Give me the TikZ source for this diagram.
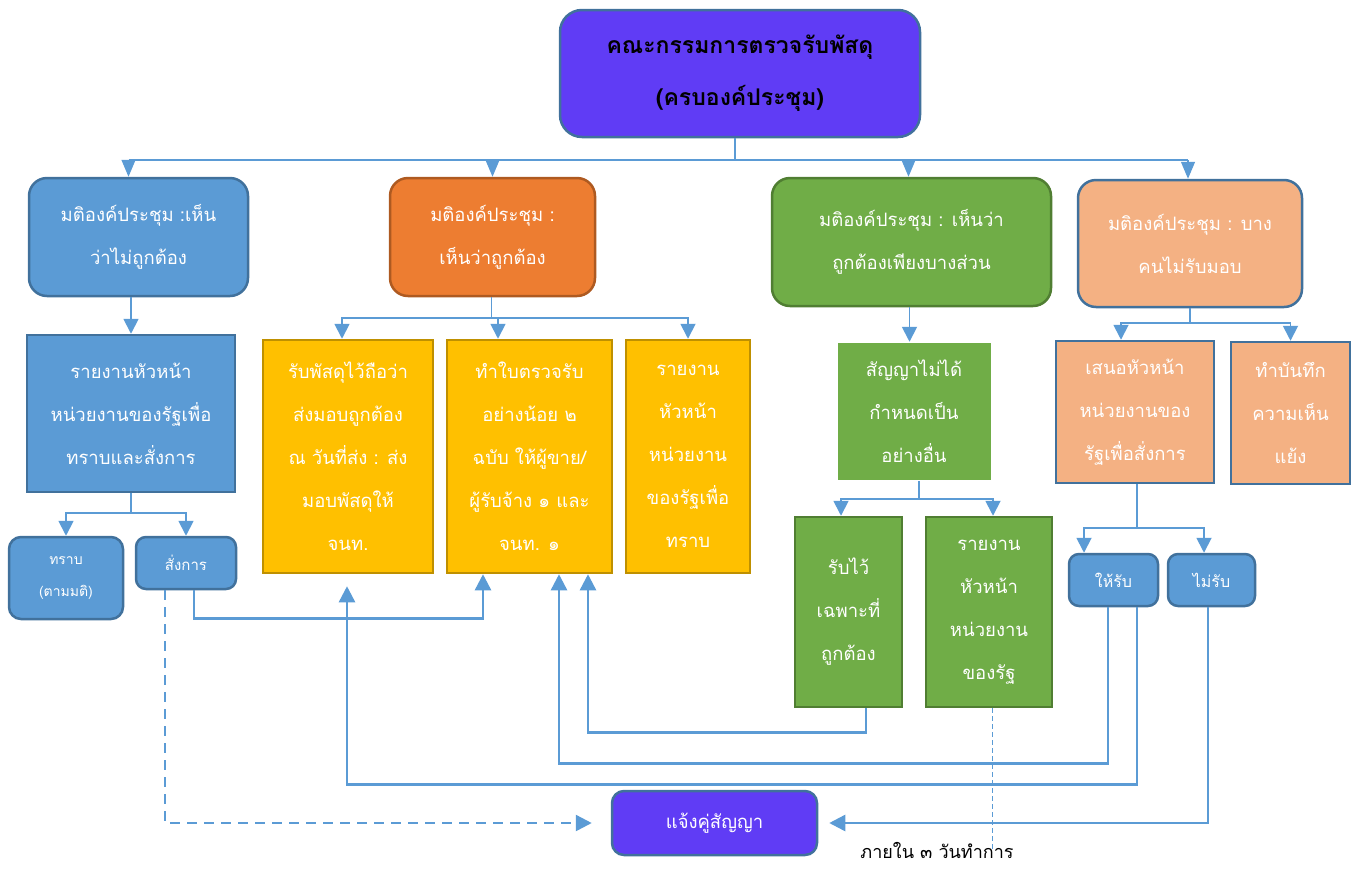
\documentclass[tikz,border=0pt]{standalone}
\usepackage{fontspec}
\newfontfamily\thai[Script=Thai]{Loma}
\usetikzlibrary{arrows.meta,calc}
\definecolor{cpurple}{RGB}{96,60,245}
\definecolor{cblue}{RGB}{91,155,213}
\definecolor{cblueD}{RGB}{65,113,156}
\definecolor{corange}{RGB}{237,125,49}
\definecolor{corangeD}{RGB}{174,90,33}
\definecolor{cgreen}{RGB}{112,173,71}
\definecolor{cgreenD}{RGB}{80,126,50}
\definecolor{cpeach}{RGB}{244,177,131}
\definecolor{cyellow}{RGB}{255,192,0}
\definecolor{cyellowD}{RGB}{191,144,0}
\definecolor{cline}{RGB}{91,155,213}
\begin{document}
\begin{tikzpicture}[x=1pt,y=-1pt,
  base/.style={font=\thai\fontsize{18.5}{43}\selectfont, text=white, align=center, inner sep=0pt, line width=2.5pt},
  rbox/.style={base, rounded corners=18pt},
  sbox/.style={base, rounded corners=10pt},
  bluebox/.style={fill=cblue, draw=cblueD},
  yelbox/.style={base, fill=cyellow, draw=cyellowD},
  grnbox/.style={base, fill=cgreen, draw=cgreenD},
  pchbox/.style={base, fill=cpeach, draw=cblueD},
  tline/.style={draw=cline, line width=1.3pt},
  tarr/.style={tline, -{Triangle[width=14pt,length=17pt]}},
  marr/.style={draw=cline, line width=1.8pt, -{Triangle[width=15pt,length=15pt]}},
  barr/.style={draw=cline, line width=2.5pt, -{Triangle[width=16pt,length=16pt]}},
]
\useasboundingbox (0,0) rectangle (1357,868);

% top
\node[rbox, fill=cpurple, draw=cblueD, rounded corners=22pt, minimum width=360pt, minimum height=127pt,
      font=\thai\bfseries\fontsize{23}{52}\selectfont, text=black] (T) at (740,73.5)
      {คณะกรรมการตรวจรับพัสดุ\\(ครบองค์ประชุม)};

% first row
\node[rbox, bluebox, minimum width=219pt, minimum height=118pt] (A) at (138.5,237)
      {มติองค์ประชุม :เห็น\\ว่าไม่ถูกต้อง};
\node[rbox, fill=corange, draw=corangeD, minimum width=205pt, minimum height=118pt] (B) at (492.5,237)
      {มติองค์ประชุม :\\เห็นว่าถูกต้อง};
\node[rbox, fill=cgreen, draw=cgreenD, minimum width=279pt, minimum height=128pt] (C) at (911.5,242)
      {มติองค์ประชุม : เห็นว่า\\ถูกต้องเพียงบางส่วน};
\node[rbox, fill=cpeach, draw=cblueD, minimum width=224pt, minimum height=127pt] (D) at (1190,243.5)
      {มติองค์ประชุม : บาง\\คนไม่รับมอบ};

% second row
\node[base, bluebox, minimum width=208pt, minimum height=157pt] (A2) at (131,413.5)
      {รายงานหัวหน้า\\หน่วยงานของรัฐเพื่อ\\ทราบและสั่งการ};
\node[sbox, bluebox, rounded corners=12pt, minimum width=114pt, minimum height=82pt,
      font=\thai\fontsize{14}{32}\selectfont] (A3) at (66,578) {ทราบ\\(ตามมติ)};
\node[sbox, bluebox, minimum width=100pt, minimum height=52pt,
      font=\thai\fontsize{15}{30}\selectfont] (A4) at (186,563) {สั่งการ};

\node[yelbox, minimum width=170pt, minimum height=233pt] (B1) at (348,456.5)
      {รับพัสดุไว้ถือว่า\\ส่งมอบถูกต้อง\\ณ วันที่ส่ง : ส่ง\\มอบพัสดุให้\\จนท.};
\node[yelbox, minimum width=165pt, minimum height=233pt] (B2) at (529.5,456.5)
      {ทำใบตรวจรับ\\อย่างน้อย ๒\\ฉบับ ให้ผู้ขาย/\\ผู้รับจ้าง ๑ และ\\จนท. ๑};
\node[yelbox, minimum width=124pt, minimum height=233pt] (B3) at (688,456.5)
      {รายงาน\\หัวหน้า\\หน่วยงาน\\ของรัฐเพื่อ\\ทราบ};

\node[base, fill=cgreen, draw=none, minimum width=153pt, minimum height=137pt] (C1) at (914,411.5)
      {สัญญาไม่ได้\\กำหนดเป็น\\อย่างอื่น};
\node[grnbox, minimum width=107pt, minimum height=190pt] (C2) at (848.5,612)
      {รับไว้\\เฉพาะที่\\ถูกต้อง};
\node[grnbox, minimum width=126pt, minimum height=190pt] (C3) at (989,612)
      {รายงาน\\หัวหน้า\\หน่วยงาน\\ของรัฐ};

\node[pchbox, minimum width=158pt, minimum height=142pt] (D1) at (1135,412)
      {เสนอหัวหน้า\\หน่วยงานของ\\รัฐเพื่อสั่งการ};
\node[pchbox, minimum width=119pt, minimum height=142pt] (D2) at (1290.5,413)
      {ทำบันทึก\\ความเห็น\\แย้ง};
\node[sbox, bluebox, minimum width=89pt, minimum height=52pt,
      font=\thai\fontsize{16}{30}\selectfont] (D3) at (1113.5,580) {ให้รับ};
\node[sbox, bluebox, minimum width=87pt, minimum height=52pt,
      font=\thai\fontsize{16}{30}\selectfont] (D4) at (1211.5,580) {ไม่รับ};

% bottom
\node[sbox, fill=cpurple, draw=cblueD, rounded corners=12pt, minimum width=205pt, minimum height=64pt] (E) at (714.5,823)
      {แจ้งคู่สัญญา};
\node[font=\thai\fontsize{18}{20}\selectfont, text=black, inner sep=0pt] (L) at (937,850) {ภายใน ๓ วันทำการ};

% top distributor
\coordinate (h1) at (0,160);
\draw[tline] ([xshift=-10pt]A.north |- h1) -- ([xshift=-2pt]D.north |- h1);
\draw[tline] ([xshift=-5pt]T.south) -- ([xshift=-5pt]T.south |- h1);
\draw[tarr] ([xshift=-10pt]A.north |- h1) -- ([xshift=-10pt]A.north);
\draw[tarr] (B.north |- h1) -- (B.north);
\draw[tarr] ([xshift=-3pt]C.north |- h1) -- ([xshift=-3pt]C.north);
\draw[tarr] ([xshift=-2pt]D.north |- h1) -- ([xshift=-2pt]D.north);

% A branch
\draw[marr] (A2.north |- A.south) -- (A2.north);
\draw[marr] (A2.south) -- ++(0,20) -| (A3.north);
\draw[marr] (A2.south) -- ++(0,20) -| (A4.north);

% B branch
\draw[marr] ([xshift=-1pt]B.south) -- ++(0,21) -| ([xshift=-6pt]B1.north);
\draw[marr] ([xshift=-1pt]B.south) -- ++(0,21) -| ([xshift=-31.5pt]B2.north);
\draw[marr] ([xshift=-1pt]B.south) -- ++(0,21) -| (B3.north);

% C branch
\draw[marr] ([xshift=-2pt]C.south) -- ([xshift=-2pt]C.south |- C1.north);
\draw[marr] ([xshift=5pt]C1.south) -- ++(0,18) -| ([xshift=-7.5pt]C2.north);
\draw[marr] ([xshift=5pt]C1.south) -- ++(0,18) -| ([xshift=4pt]C3.north);

% D branch
\draw[marr] (D.south) -- ++(0,15) -| ([xshift=-14pt]D1.north);
\draw[marr] (D.south) -- ++(0,15) -| (D2.north);
\draw[marr] ([xshift=2pt]D1.south) -- ++(0,44) -| ([xshift=-29.5pt]D3.north);
\draw[marr] ([xshift=2pt]D1.south) -- ++(0,44) -| ([xshift=-7.5pt]D4.north);

% bottom connectors
\draw[barr] ([xshift=8pt]A4.south) -- ++(0,28) -| ([xshift=-46.5pt]B2.south);
\draw[barr] ([xshift=17.5pt]C2.south) -- ++(0,24) -| ([xshift=58.5pt]B2.south);
\draw[barr] ([xshift=-5.5pt]D3.south) -- ++(0,156) -| ([xshift=29.5pt]B2.south);
\draw[barr] ([xshift=23.5pt]D3.south) -- ++(0,177) -| ([xshift=-1pt,yshift=-12pt]B1.south);
\draw[barr, shorten >=11pt] ([xshift=-3.5pt]D4.south) |- (E.east);
\draw[barr, dashed, dash pattern=on 10pt off 7pt, shorten >=19pt] ([xshift=-21pt]A4.south) |- (E.west);
\draw[draw=cline, line width=1pt, dash pattern=on 5pt off 3pt] ([xshift=3pt]C3.south) -- ++(0,143);
\end{tikzpicture}
\end{document}
